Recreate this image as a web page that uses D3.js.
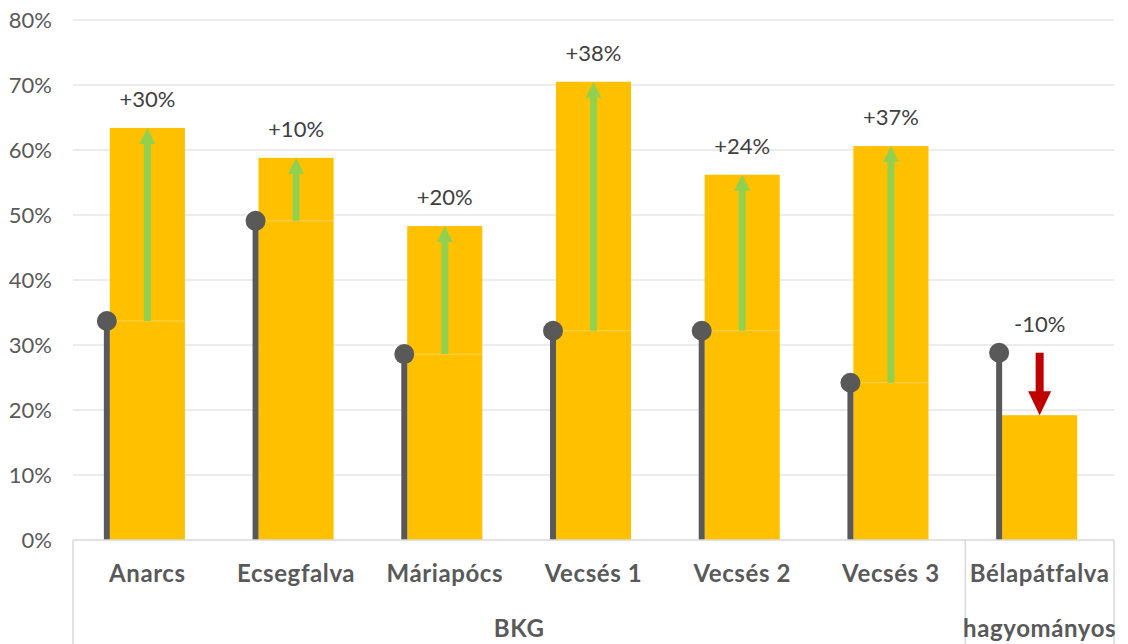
<!DOCTYPE html>
<html>
<head>
<meta charset="utf-8">
<script src="https://cdnjs.cloudflare.com/ajax/libs/d3/7.8.5/d3.min.js"></script>
<style>
  html, body { margin: 0; padding: 0; background: #fff; }
  svg { display: block; font-family: Lato, "Open Sans", sans-serif; }
</style>
</head>
<body>
<svg id="chart" width="1128" height="644"></svg>
<script>
// data
const categories = ["Anarcs", "Ecsegfalva", "Máriapócs", "Vecsés 1", "Vecsés 2", "Vecsés 3", "Bélapátfalva"];
const groupOf = ["BKG", "BKG", "BKG", "BKG", "BKG", "BKG", "hagyományos"];
const baseValues = [0.337, 0.491, 0.286, 0.322, 0.322, 0.242, 0.288];
const finalValues = [0.634, 0.588, 0.483, 0.705, 0.562, 0.606, 0.192];
const changeLabels = ["+30%", "+10%", "+20%", "+38%", "+24%", "+37%", "-10%"];
const yTicks = [0, 0.1, 0.2, 0.3, 0.4, 0.5, 0.6, 0.7, 0.8];

const svg = d3.select("#chart");
const plotLeft = 73, plotRight = 1114, plotTop = 20, plotBottom = 540;

const x = d3.scaleBand().domain(categories).range([plotLeft, plotRight]).padding(0);
const y = d3.scaleLinear().domain([0, 0.8]).range([plotBottom, plotTop]);
const bw = x.bandwidth();
const barW = bw * 0.505;
const cx = c => x(c) + bw / 2;

// gridlines
svg.append("g")
    .selectAll("line")
    .data(yTicks.slice(1))
    .enter().append("line")
    .attr("x1", plotLeft).attr("x2", plotRight)
    .attr("y1", d => y(d)).attr("y2", d => y(d))
    .attr("stroke", "#d9d9d9").attr("stroke-width", 1);

// y axis labels
const yAxis = svg.append("g")
    .attr("transform", `translate(${plotLeft - 21},0)`)
    .call(d3.axisLeft(y).tickValues(yTicks).tickFormat(d3.format(".0%")).tickSize(0));
yAxis.select(".domain").remove();
yAxis.selectAll("text")
    .attr("x", 0).attr("dy", "0.35em")
    .attr("fill", "#595959").style("font-size", "22px").style("font-family", "Lato");

// bars: lower (up to base) and upper (base to final) parts
const rows = categories.map((c, i) => ({ c, base: baseValues[i], fin: finalValues[i], label: changeLabels[i] }));

const bars = svg.append("g");
rows.forEach(d => {
    const lo = Math.min(d.base, d.fin);
    bars.append("rect")
        .attr("x", cx(d.c) - barW / 2).attr("width", barW)
        .attr("y", y(lo)).attr("height", y(0) - y(lo))
        .attr("fill", "#ffc000");
    if (d.fin > d.base) {
        bars.append("rect")
            .attr("x", cx(d.c) - barW / 2).attr("width", barW)
            .attr("y", y(d.fin)).attr("height", y(d.base) - y(d.fin))
            .attr("fill", "#ffc000");
        bars.append("line")
            .attr("x1", cx(d.c) - barW / 2).attr("x2", cx(d.c) + barW / 2)
            .attr("y1", y(d.base)).attr("y2", y(d.base))
            .attr("stroke", "#ffd04a").attr("stroke-width", 1);
    }
});

// lollipops for the starting value
const lollipop = svg.append("g");
lollipop.selectAll("line")
    .data(rows)
    .enter().append("line")
    .attr("x1", d => cx(d.c) - 40.5).attr("x2", d => cx(d.c) - 40.5)
    .attr("y1", y(0)).attr("y2", d => y(d.base))
    .attr("stroke", "#595959").attr("stroke-width", 6);
lollipop.selectAll("circle")
    .data(rows)
    .enter().append("circle")
    .attr("cx", d => cx(d.c) - 40.5).attr("cy", d => y(d.base))
    .attr("r", 10).attr("fill", "#595959");

// arrows from base to final
function arrowPath(xc, y0, y1, shaftW, headW, headL) {
    const dir = y1 < y0 ? 1 : -1; // 1 = up
    const yh = y1 + dir * headL;
    return `M${xc - shaftW / 2},${y0} L${xc - shaftW / 2},${yh} L${xc - headW / 2},${yh}` +
           ` L${xc},${y1} L${xc + headW / 2},${yh} L${xc + shaftW / 2},${yh} L${xc + shaftW / 2},${y0} Z`;
}
svg.append("g")
    .selectAll("path")
    .data(rows)
    .enter().append("path")
    .attr("d", d => d.fin > d.base
        ? arrowPath(cx(d.c), y(d.base), y(d.fin), 7, 16, 16)
        : arrowPath(cx(d.c), y(d.base), y(d.fin), 8, 23, 24))
    .attr("fill", d => d.fin > d.base ? "#92d050" : "#c00000");

// change labels
svg.append("g")
    .selectAll("text")
    .data(rows)
    .enter().append("text")
    .attr("x", d => cx(d.c))
    .attr("y", d => y(Math.max(d.base, d.fin)) - 21)
    .attr("text-anchor", "middle")
    .attr("fill", "#404040")
    .style("font-size", "22px")
    .text(d => d.label);

// category axis
svg.append("line")
    .attr("x1", plotLeft).attr("x2", plotRight)
    .attr("y1", plotBottom).attr("y2", plotBottom)
    .attr("stroke", "#d9d9d9").attr("stroke-width", 1.5);

svg.append("g")
    .selectAll("text")
    .data(categories)
    .enter().append("text")
    .attr("x", d => cx(d))
    .attr("y", 582)
    .attr("text-anchor", "middle")
    .attr("fill", "#595959")
    .style("font-size", "24px").style("font-weight", "bold").style("letter-spacing", "0.6px")
    .text(d => d);

// group labels and separators
const groups = Array.from(new Set(groupOf)).map(g => {
    const members = categories.filter((c, i) => groupOf[i] === g);
    return { g, x0: x(members[0]), x1: x(members[members.length - 1]) + bw };
});
svg.append("g")
    .selectAll("line")
    .data([plotLeft].concat(groups.map(d => d.x1)))
    .enter().append("line")
    .attr("x1", d => d).attr("x2", d => d)
    .attr("y1", plotBottom).attr("y2", 644)
    .attr("stroke", "#d9d9d9").attr("stroke-width", 1.5);
svg.append("g")
    .selectAll("text")
    .data(groups)
    .enter().append("text")
    .attr("x", d => (d.x0 + d.x1) / 2)
    .attr("y", 637)
    .attr("text-anchor", "middle")
    .attr("fill", "#595959")
    .style("font-size", "24px").style("font-weight", "bold").style("letter-spacing", "0.6px")
    .text(d => d.g);
</script>
</body>
</html>
